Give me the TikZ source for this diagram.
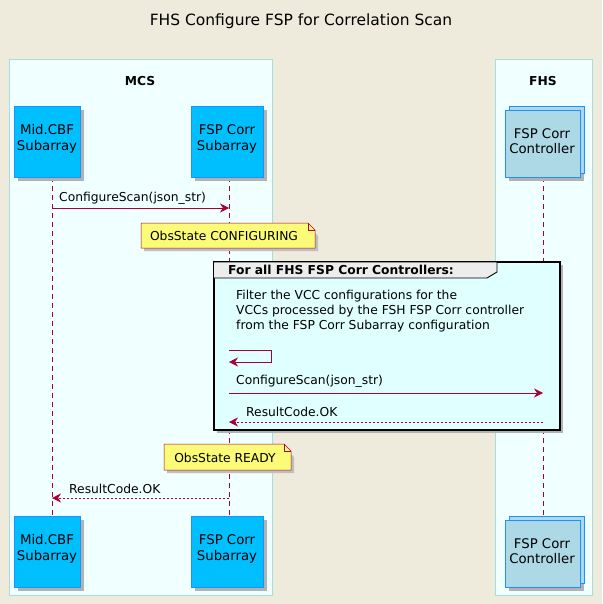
\documentclass[tikz,border=0pt]{standalone}
\usepackage{fontspec}
\setmainfont{DejaVu Sans}
\usetikzlibrary{arrows.meta}
\definecolor{bg}{HTML}{EEEBDC}
\definecolor{boxbg}{HTML}{F0FFFF}
\definecolor{boxln}{HTML}{A8DDE0}
\definecolor{part}{HTML}{00BFFF}
\definecolor{partln}{HTML}{1E90FF}
\definecolor{coll}{HTML}{ADD8E6}
\definecolor{arr}{HTML}{A80036}
\definecolor{note}{HTML}{FBFB77}
\definecolor{noteln}{HTML}{A80036}
\definecolor{grp}{HTML}{E0FFFF}
\begin{document}
\begin{tikzpicture}[x=1pt,y=-1pt,
  txt/.style={font=\fontsize{12.3}{14}\selectfont,inner sep=0pt},
  ptxt/.style={font=\fontsize{13.3}{15.5}\selectfont,align=center,inner sep=0pt},
  msg/.style={arr,line width=0.8pt,-{Stealth[length=9pt,width=9pt,inset=3pt]}},
  dmsg/.style={msg,dash pattern=on 2pt off 2pt},
  life/.style={arr,dash pattern=on 5pt off 4pt,line width=0.8pt},
  pbox/.style={fill=part,draw=partln,line width=0.9pt},
  shadow/.style={fill=black!30}]
\fill[bg] (0,0) rectangle (602,604);
\useasboundingbox (0,0) rectangle (602,604);
\node[font=\fontsize{15.5}{18}\selectfont] (title) at (301,21) {FHS Configure FSP for Correlation Scan};
% boxes
\draw[fill=boxbg,draw=boxln] (9,59) rectangle (272,595);
\draw[fill=boxbg,draw=boxln] (495,59) rectangle (592,595);
\node[txt,font=\bfseries\fontsize{12.3}{14}\selectfont] (mcs) at (140,81) {MCS};
\node[txt,font=\bfseries\fontsize{12.3}{14}\selectfont] (fhs) at (543,81) {FHS};
% lifelines
\coordinate (a1) at (52,177); \coordinate (a2) at (52,516);
\coordinate (b1) at (229,177); \coordinate (b2) at (229,516);
\coordinate (c1) at (543,177); \coordinate (c2) at (543,516);
\draw[life] (a1)--(a2); \draw[life] (b1)--(b2); \draw[life] (c1)--(c2);
% participants
\foreach \y/\n in {106/t,516/b}{
  \fill[shadow] (18,\y+4) rectangle (84,\y+75);
  \draw[pbox] (14,\y) rectangle (80,\y+71);
  \node[ptxt] (mid\n) at (47,\y+33) {Mid.CBF\\Subarray};
  \fill[shadow] (195,\y+4) rectangle (267,\y+75);
  \draw[pbox] (191,\y) rectangle (263,\y+71);
  \node[ptxt] (fsp\n) at (227,\y+33) {FSP Corr\\Subarray};
  \fill[shadow] (509,\y+8) rectangle (584,\y+75);
  \draw[fill=coll,draw=partln,line width=0.9pt] (509,\y) rectangle (584,\y+67);
  \draw[fill=coll,draw=partln,line width=0.9pt] (505,\y+4) rectangle (580,\y+71);
  \node[ptxt] (ctl\n) at (542,\y+35) {FSP Corr\\Controller};
}
% msg 1
\coordinate (m1a) at (52,208); \coordinate (m1b) at (229,208);
\draw[msg] (m1a)--(m1b);
\node[txt,anchor=south west] (l1) at (59,205) {ConfigureScan(json\_str)};
% note 1
\fill[black!25] (144,226) -- (308,226) -- (318,236) -- (318,251) -- (144,251) -- cycle;
\draw[fill=note,draw=noteln,line width=0.5pt] (141,223) -- (308,223) -- (315,230) -- (315,248) -- (141,248) -- cycle;
\draw[noteln,line width=0.5pt] (308,223) -- (308,230) -- (315,230);
\node[txt] (n1) at (224,236) {ObsState CONFIGURING};
% group
\fill[black!30] (217,265) rectangle (563,433);
\draw[fill=grp,draw=black,line width=1.6pt] (214,262) rectangle (560,430);
\draw[fill=black!7,draw=black,line width=0.9pt] (214,262) -- (497,262) -- (497,272) -- (487,278) -- (214,278);
\node[txt,font=\bfseries\fontsize{12.3}{14}\selectfont,anchor=west] (gh) at (228,270) {For all FHS FSP Corr Controllers:};
\node[txt,anchor=north west,align=left,font=\fontsize{12.3}{15}\selectfont] (gt) at (236,289.5) {Filter the VCC configurations for the\\VCCs processed by the FSH FSP Corr controller\\from the FSP Corr Subarray configuration};
\coordinate (s1) at (229,350); \coordinate (s2) at (271,350); \coordinate (s3) at (271,362); \coordinate (s4) at (229,362);
\draw[msg] (s1)--(s2)--(s3)--(s4);
\coordinate (m2a) at (229,393); \coordinate (m2b) at (543,393);
\draw[msg] (m2a)--(m2b);
\node[txt,anchor=south west] (l2) at (236,388) {ConfigureScan(json\_str)};
\coordinate (m3a) at (543,422); \coordinate (m3b) at (229,422);
\draw[dmsg] (m3a)--(m3b);
\node[txt,anchor=south west] (l3) at (246,417) {ResultCode.OK};
% note 2
\fill[black!25] (167,447) -- (284,447) -- (294,457) -- (294,473) -- (167,473) -- cycle;
\draw[fill=note,draw=noteln,line width=0.5pt] (164,444) -- (284,444) -- (291,451) -- (291,470) -- (164,470) -- cycle;
\draw[noteln,line width=0.5pt] (284,444) -- (284,451) -- (291,451);
\node[txt] (n2) at (225,458) {ObsState READY};
% msg 4
\coordinate (m4a) at (229,498); \coordinate (m4b) at (52,498);
\draw[dmsg] (m4a)--(m4b);
\node[txt,anchor=south west] (l4) at (69,494) {ResultCode.OK};
\end{tikzpicture}
\end{document}
